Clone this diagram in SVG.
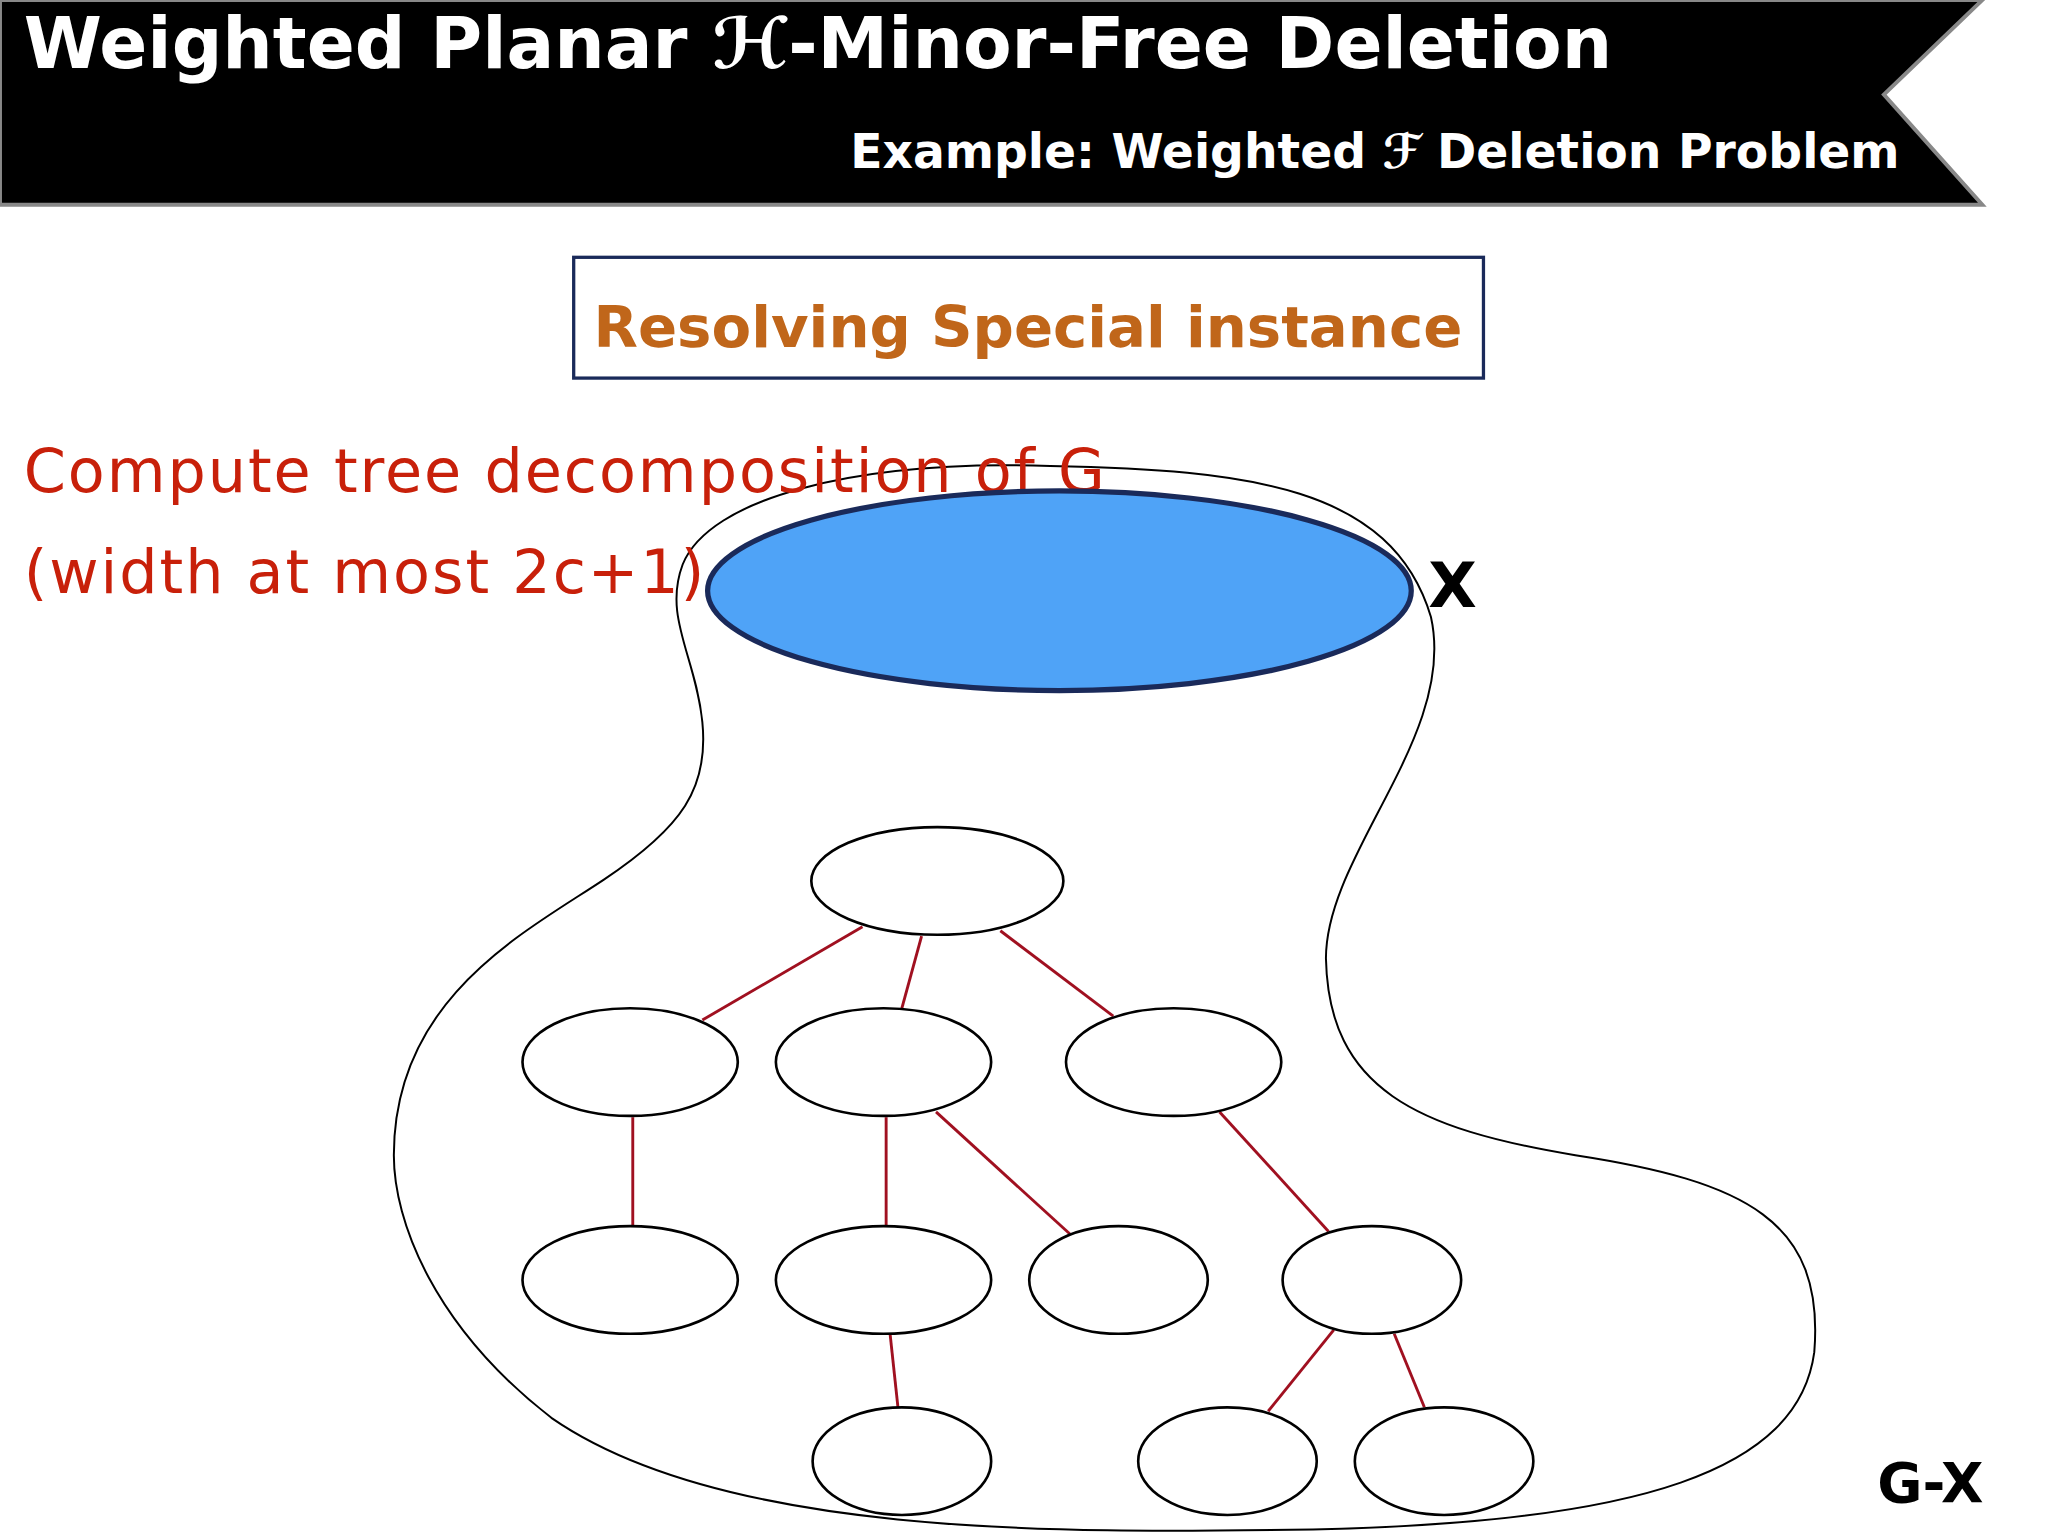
<svg xmlns="http://www.w3.org/2000/svg" width="2048" height="1536" viewBox="0 0 2048 1536">
<style>
.t{font-family:"DejaVu Sans","Noto Sans",sans-serif;font-weight:bold}
.r{font-family:"DejaVu Sans","Noto Sans",sans-serif;fill:#C8200A;font-size:46px;letter-spacing:1.5px}
.n{fill:#fff;stroke:#000;stroke-width:2}
.e{stroke:#A01020;stroke-width:2.2}
</style>
<rect width="2048" height="1536" fill="#fff"/>
<g transform="scale(1.3128)">
<g id="header">
<polygon points="0,0 1510,0 1435,72 1510,156 0,156" fill="#000" stroke="#888" stroke-width="3"/>
<text class="t" x="18" y="52" font-size="54" fill="#fff">Weighted Planar ℋ-Minor-Free Deletion</text>
<text class="t" x="1447" y="128" font-size="36" fill="#fff" text-anchor="end">Example: Weighted ℱ Deletion Problem</text>
</g>
<g id="banner">
<rect x="437" y="196" width="693" height="92" fill="#fff" stroke="#1a2a5a" stroke-width="2.5"/>
<text class="t" x="783" y="264" font-size="44" fill="#C0661A" text-anchor="middle">Resolving Special instance</text>
</g>
<g id="blob">
<path d="M520,430 C540,380 650,350 800,355 C950,358 1060,370 1090,470 C1110,560 1010,650 1010,730 C1012,830 1080,860 1200,880 C1330,900 1390,930 1382,1030 C1370,1120 1250,1160 1000,1165 C800,1168 550,1170 420,1080 C330,1010 300,930 300,880 C300,760 400,710 460,670 C520,630 540,600 535,550 C530,500 505,470 520,430 Z" fill="none" stroke="#000" stroke-width="1.5"/>
</g>
<g id="text-red">
<text class="r" x="18" y="375">Compute tree decomposition of G</text>
<text class="r" x="18" y="452">(width at most 2c+1)</text>
</g>
<g id="X">
<ellipse cx="807" cy="450" rx="268" ry="76" fill="#4FA3F7" stroke="#1a2a5a" stroke-width="4"/>
<text class="t" x="1088" y="462" font-size="48" fill="#000">X</text>
</g>
<g id="connectors">
<line class="e" x1="657" y1="706" x2="535" y2="777"/>
<line class="e" x1="702" y1="713" x2="687" y2="768"/>
<line class="e" x1="762" y1="709" x2="848" y2="774"/>
<line class="e" x1="482" y1="851" x2="482" y2="934"/>
<line class="e" x1="675" y1="851" x2="675" y2="934"/>
<line class="e" x1="713" y1="847" x2="815" y2="940"/>
<line class="e" x1="929" y1="847" x2="1012" y2="938"/>
<line class="e" x1="678" y1="1016" x2="684" y2="1072"/>
<line class="e" x1="1016" y1="1013" x2="966" y2="1075"/>
<line class="e" x1="1062" y1="1016" x2="1085" y2="1072"/>
</g>
<g id="n0"><ellipse class="n" cx="714" cy="671" rx="96" ry="41"/></g>
<g id="n1"><ellipse class="n" cx="480" cy="809" rx="82" ry="41"/></g>
<g id="n2"><ellipse class="n" cx="673" cy="809" rx="82" ry="41"/></g>
<g id="n3"><ellipse class="n" cx="894" cy="809" rx="82" ry="41"/></g>
<g id="n4"><ellipse class="n" cx="480" cy="975" rx="82" ry="41"/></g>
<g id="n5"><ellipse class="n" cx="673" cy="975" rx="82" ry="41"/></g>
<g id="n6"><ellipse class="n" cx="852" cy="975" rx="68" ry="41"/></g>
<g id="n7"><ellipse class="n" cx="1045" cy="975" rx="68" ry="41"/></g>
<g id="n8"><ellipse class="n" cx="687" cy="1113" rx="68" ry="41"/></g>
<g id="n9"><ellipse class="n" cx="935" cy="1113" rx="68" ry="41"/></g>
<g id="n10"><ellipse class="n" cx="1100" cy="1113" rx="68" ry="41"/></g>
<g id="GX"><text class="t" x="1430" y="1144" font-size="42" fill="#000">G-X</text></g>
</g>
</svg>
